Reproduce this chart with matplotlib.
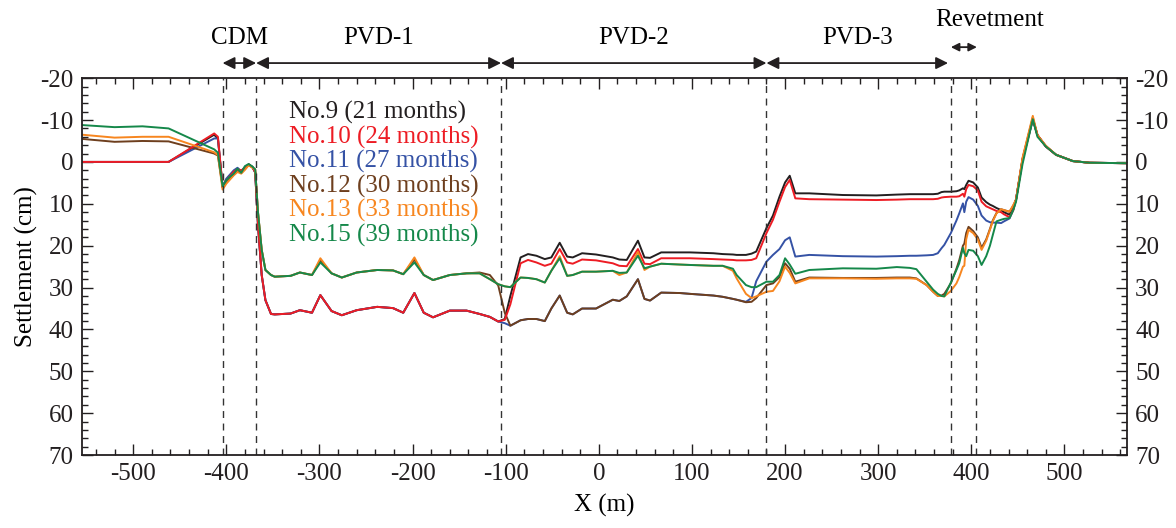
import numpy as np
import matplotlib
matplotlib.use("Agg")
import matplotlib.pyplot as plt
from matplotlib.ticker import MultipleLocator

plt.rcParams['font.family'] = ['Liberation Serif', 'DejaVu Serif']
plt.rcParams['axes.unicode_minus'] = False

# distance along the section (m)
x = [-555, -520, -490, -462, -413, -409, -404, -400, -396, -392, -388, -384, -380, -376, -372, -369,
     -366, -362, -358, -352, -348, -331, -321, -308, -299, -287, -276, -260, -238, -221, -210, -198,
     -188, -178, -160, -142, -128, -117, -108, -101, -95, -84, -76, -67, -58, -51, -42, -34, -28,
     -18, -3, 15, 22, 30, 42, 49, 55, 67, 87, 98, 123, 133, 144, 148, 158, 164, 169, 180, 187, 194,
     200, 205, 211, 226, 262, 298, 320, 334, 341, 352, 359, 364, 368, 371, 378, 384, 387, 391, 392.5,
     394.5, 397, 402, 407, 411, 416, 420, 423, 427, 432, 435, 441, 445, 448, 455, 466, 471, 480, 491,
     509, 527, 566]

# settlement (cm), negative = heave
no9 = [0, 0, 0, 0, -6.5, -5.5, 6.0, 4.2, 3.6, 2.6, 1.6, 2.4, 1.4, 0.6, 1.2, 2.5,
       15, 27, 33, 36.3, 36.4, 36.2, 35.4, 36.0, 31.8, 35.6, 36.6, 35.4, 34.6, 34.9, 36.0, 31.3,
       36.0, 37.1, 35.5, 35.5, 36.3, 37.0, 38.1, 37.5, 32.0, 22.8, 22.0, 22.4, 23.2, 22.8, 19.3, 22.6, 22.8,
       21.8, 22.1, 22.8, 23.3, 23.4, 18.8, 22.8, 22.9, 21.6, 21.6, 21.6, 21.8, 22.0, 22.1, 22.2, 22.2, 21.9, 21.4, 15.8, 12.8, 8.3,
       4.9, 3.3, 7.5, 7.5, 7.9, 8.0, 7.8, 7.7, 7.7, 7.7, 7.7, 7.6, 7.2, 7.1, 7.1, 7.0, 6.8, 6.3, 6.5,
       5.5, 4.5, 4.9, 6.1, 8.5, 9.6, 10.2, 10.5, 11.0, 11.5, 12.0, 12.6, 11.0, 9.0, -0.5, -10.2, -6.4, -3.7, -1.7,
       -0.2, 0.2, 0.3]
no10 = [0, 0, 0, 0, -6.8, -6.0, 6.0, 4.5, 3.4, 2.3, 1.8, 2.0, 1.5, 0.6, 1.2, 2.5,
        15, 27, 33, 36.3, 36.4, 36.2, 35.4, 36.0, 31.8, 35.6, 36.6, 35.4, 34.6, 34.9, 36.0, 31.3,
        36.0, 37.1, 35.5, 35.5, 36.3, 37.0, 38.1, 37.7, 34.0, 24.2, 23.4, 24.0, 24.8, 24.3, 20.8, 24.0, 24.3,
        23.3, 23.5, 24.2, 24.8, 24.9, 20.8, 24.3, 24.4, 23.0, 23.0, 23.0, 23.2, 23.3, 23.4, 23.5, 23.5, 23.4, 23.0, 17.0, 13.8, 9.5,
        6.0, 4.3, 8.7, 8.9, 9.0, 9.1, 9.0, 8.9, 8.9, 8.9, 8.9, 8.8, 8.5, 8.4, 8.3, 8.3, 8.2, 7.6, 8.3,
        6.5, 5.5, 5.8, 6.8, 9.5, 10.6, 11.0, 11.3, 11.7, 12.0, 12.5, 13.2, 11.5, 9.0, -0.5, -10.3, -6.4, -3.7, -1.7,
        -0.2, 0.2, 0.3]
no11 = [0, 0, 0, 0, -5.6, -5.6, 6.0, 4.0, 3.0, 2.0, 1.4, 2.2, 1.2, 0.6, 1.2, 2.5,
        15, 27, 33, 36.3, 36.4, 36.2, 35.4, 36.0, 31.8, 35.6, 36.6, 35.4, 34.6, 34.9, 36.0, 31.3,
        36.0, 37.1, 35.5, 35.5, 36.3, 37.0, 38.1, 38.5, 39.1, 37.8, 37.5, 37.5, 38.0, 35.0, 31.9, 36.0, 36.4,
        35.0, 35.0, 32.9, 33.2, 32.1, 28.0, 32.7, 33.1, 31.2, 31.3, 31.5, 31.9, 32.2, 32.7, 32.9, 33.4, 32.5, 28.5, 23.8, 22.2, 20.8,
        18.7, 18.0, 22.6, 22.2, 22.5, 22.6, 22.5, 22.4, 22.4, 22.3, 22.2, 21.8, 20.6, 19.8, 17.0, 14.0, 12.3, 9.9, 12.0,
        9.5, 8.4, 9.0, 10.5, 12.8, 14.0, 14.4, 14.5, 14.5, 14.6, 14.2, 13.5, 11.5, 9.0, -0.5, -10.0, -6.4, -3.7, -1.7,
        -0.2, 0.2, 0.3]
no12 = [-5.5, -4.8, -5.0, -4.9, -2.0, -1.5, 6.0, 4.8, 4.0, 3.0, 2.2, 2.6, 1.6, 0.7, 1.3, 1.8,
        12, 21, 25.8, 27.0, 27.4, 27.2, 26.4, 27.0, 23.5, 26.6, 27.6, 26.4, 25.8, 25.9, 26.8, 23.3,
        27.0, 28.2, 27.0, 26.6, 26.4, 27.0, 29.5, 36.0, 39.1, 37.8, 37.5, 37.5, 38.0, 35.0, 31.9, 36.0, 36.4,
        35.0, 35.0, 32.9, 33.2, 32.1, 28.0, 32.7, 33.1, 31.2, 31.3, 31.5, 31.9, 32.2, 32.7, 32.9, 33.5, 33.4, 32.5, 29.4, 29.0, 27.5,
        24.2, 25.5, 28.6, 27.6, 27.7, 27.7, 27.6, 27.6, 27.8, 29.4, 31.0, 32.0, 31.9, 31.5, 29.0, 25.5, 23.5, 20.0, 19.5,
        17.0, 15.5, 16.5, 18.0, 20.5, 18.5, 16.0, 14.0, 12.2, 11.3, 11.5, 11.9, 10.5, 9.0, -0.8, -10.6, -6.4, -3.7, -1.7,
        -0.2, 0.2, 0.3]
no13 = [-6.5, -5.8, -6.0, -6.0, -2.3, -1.6, 6.6, 5.2, 4.2, 3.2, 2.4, 2.8, 1.9, 0.8, 1.4, 1.8,
        12, 21, 25.8, 27.0, 27.4, 27.2, 26.4, 27.0, 23.0, 26.6, 27.6, 26.4, 25.8, 25.9, 26.8, 22.8,
        27.0, 28.2, 27.0, 26.6, 26.6, 28.0, 29.2, 29.7, 29.9, 27.6, 27.7, 28.0, 28.8, 26.0, 22.5, 27.2, 27.0,
        26.2, 26.2, 26.0, 27.0, 26.4, 21.5, 25.8, 25.0, 24.3, 24.5, 24.6, 24.8, 24.8, 26.0, 27.8, 31.5, 32.5, 32.1, 31.0, 30.8, 28.5,
        25.0, 26.5, 29.0, 27.8, 27.8, 27.9, 27.8, 27.8, 27.9, 29.4, 31.0, 32.0, 32.0, 32.1, 30.8, 29.0, 27.5, 25.0, 24.8,
        18.5, 16.2, 17.0, 18.5, 21.0, 18.8, 16.2, 14.2, 12.3, 11.3, 11.5, 11.9, 10.3, 9.0, -1.0, -11.0, -6.4, -3.9, -1.7,
        -0.2, 0.2, 0.3]
no15 = [-8.8, -8.3, -8.5, -8.0, -3.0, -2.2, 5.8, 4.4, 3.5, 2.8, 1.6, 2.6, 1.0, 0.5, 1.1, 1.8,
        12, 21, 25.8, 27.0, 27.4, 27.2, 26.4, 27.0, 24.0, 26.6, 27.6, 26.4, 25.8, 25.9, 26.8, 24.0,
        27.0, 28.2, 27.0, 26.6, 26.6, 28.0, 29.2, 29.7, 29.9, 27.6, 27.7, 28.0, 28.8, 26.0, 23.0, 27.2, 27.0,
        26.2, 26.2, 26.0, 26.5, 26.4, 22.4, 25.4, 25.0, 24.3, 24.5, 24.6, 24.8, 24.8, 25.5, 27.0, 29.4, 29.9, 29.9, 28.6, 28.6, 27.0,
        23.0, 24.5, 26.7, 25.8, 25.4, 25.5, 25.1, 25.3, 25.6, 28.6, 30.5, 31.5, 32.0, 32.1, 28.8, 25.8, 24.2, 20.5, 21.8,
        22.5, 21.0, 21.2, 22.5, 24.6, 22.5, 20.0, 17.5, 14.2, 13.8, 13.6, 13.4, 11.5, 9.5, 0.5, -10.2, -6.0, -3.7, -1.7,
        -0.2, 0.2, 0.3]

labels = ['No.9 (21 months)', 'No.10 (24 months)', 'No.11 (27 months)',
          'No.12 (30 months)', 'No.13 (33 months)', 'No.15 (39 months)']
colors = ['#231f20', '#ed1c24', '#3552a5', '#6e3f1e', '#f7861f', '#15884a']
series = [no9, no10, no11, no12, no13, no15]

# zone boundaries (m) and names
bounds = [-404, -368, -105, 180, 378, 405]
zones = ['CDM', 'PVD-1', 'PVD-2', 'PVD-3']

fig = plt.figure(figsize=(11.76, 5.28), dpi=100)
ax = fig.add_axes([0.0697, 0.138, 0.8885, 0.714])

# draw order so the hidden curves sit underneath
order = [0, 2, 3, 1, 4, 5]
for i in order:
    ax.plot(x, series[i], color=colors[i], lw=1.4)

for b in bounds:
    ax.axvline(b, color='#333333', lw=1.0, ls=(0, (5, 4)))

ax.set_xlim(-555, 567)
ax.set_ylim(70, -20)
ax.xaxis.set_major_locator(MultipleLocator(100))
ax.xaxis.set_minor_locator(MultipleLocator(20))
ax.yaxis.set_major_locator(MultipleLocator(10))
ax.yaxis.set_minor_locator(MultipleLocator(2))
ax.tick_params(which='both', direction='in', top=True, right=True, labelright=True,
               labelsize=18, width=1.0, colors='#231f20')
ax.tick_params(which='major', length=8, pad=6)
ax.tick_params(which='minor', length=4)
for s in ax.spines.values():
    s.set_linewidth(1.3)
    s.set_color('#231f20')

ax.set_xlabel('X (m)', fontsize=18, labelpad=6)
ax.set_ylabel('Settlement (cm)', fontsize=18, labelpad=2)

# legend as coloured text
for k, (lab, c) in enumerate(zip(labels, colors)):
    ax.text(-333, -11.7 + 5.85 * k, lab, color=c, fontsize=18, va='center', ha='left')

# zone arrows above the plot
arrow_y = -23.6
spans = [(-404, -368), (-368, -105), (-105, 180), (180, 375)]
for (a, b), name in zip(spans, zones):
    ax.annotate('', xy=(a, arrow_y), xytext=(b, arrow_y), annotation_clip=False,
                arrowprops=dict(arrowstyle='<|-|>', color='#231f20', lw=1.3,
                                mutation_scale=18, shrinkA=0, shrinkB=0))
    ax.text((a + b) / 2, -29.6, name, fontsize=18, ha='center', va='center', clip_on=False)
ax.annotate('', xy=(378, -27.4), xytext=(406, -27.4), annotation_clip=False,
            arrowprops=dict(arrowstyle='<|-|>', color='#231f20', lw=1.3,
                            mutation_scale=12, shrinkA=0, shrinkB=0))
ax.text(420, -33.9, 'Revetment', fontsize=18, ha='center', va='center', clip_on=False)

fig.savefig('out.png', dpi=100)
